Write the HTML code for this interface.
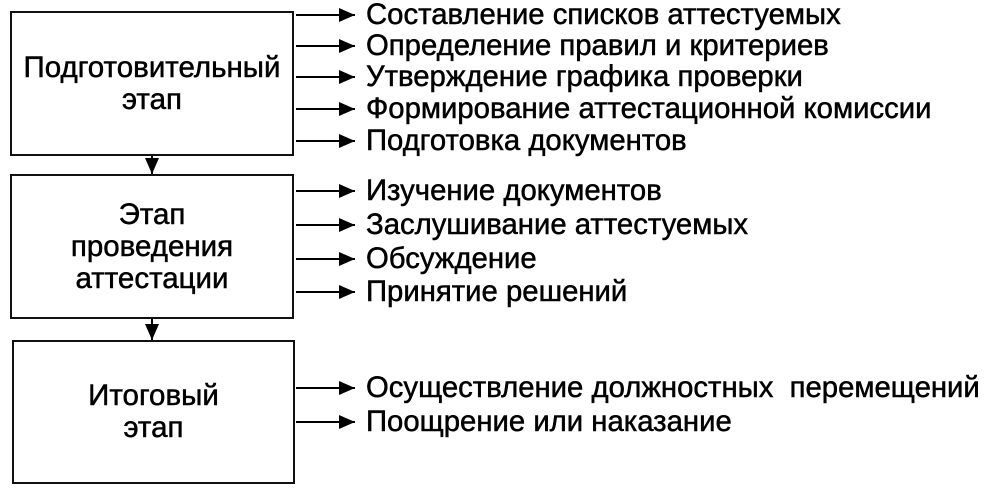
<!DOCTYPE html>
<html><head><meta charset="utf-8"><style>
body{margin:0;width:998px;height:491px;background:#fff;position:relative;overflow:hidden;font-family:"Liberation Sans",sans-serif;color:#000}
.box{position:absolute;border:2px solid #111;box-sizing:border-box;display:flex;align-items:center;justify-content:center;text-align:center;font-size:29.5px;line-height:32px;-webkit-text-stroke:0.5px #000}
.t{position:absolute;left:366px;font-size:29.3px;line-height:30px;white-space:nowrap;transform:translateY(-50%);-webkit-text-stroke:0.5px #000}
svg{position:absolute;left:0;top:0}
</style></head><body>
<div class="box" style="left:10px;top:11px;width:284px;height:145px">Подготовительный<br>этап</div>
<div class="box" style="left:10px;top:174px;width:284px;height:145px">Этап<br>проведения<br>аттестации</div>
<div class="box" style="left:12px;top:340px;width:283px;height:144px">Итоговый<br>этап</div>
<svg width="998" height="491">
<defs><marker id="a" markerWidth="16" markerHeight="14" refX="16" refY="7" orient="auto" markerUnits="userSpaceOnUse"><path d="M0,0 L16,7 L0,14 z" fill="#000"/></marker></defs>
<g stroke="#000" stroke-width="2" marker-end="url(#a)">
<line x1="296" y1="15" x2="355" y2="15"/>
<line x1="296" y1="46" x2="355" y2="46"/>
<line x1="296" y1="77" x2="355" y2="77"/>
<line x1="296" y1="109" x2="355" y2="109"/>
<line x1="296" y1="141" x2="355" y2="141"/>
<line x1="296" y1="191" x2="355" y2="191"/>
<line x1="296" y1="225" x2="355" y2="225"/>
<line x1="296" y1="259" x2="355" y2="259"/>
<line x1="296" y1="292" x2="355" y2="292"/>
<line x1="296" y1="388" x2="355" y2="388"/>
<line x1="296" y1="422" x2="355" y2="422"/>
<line x1="152" y1="156" x2="152" y2="174"/>
<line x1="152" y1="319" x2="152" y2="340"/>
</g>
</svg>
<div class="t" style="top:15px">Составление списков аттестуемых</div>
<div class="t" style="top:46px">Определение правил и критериев</div>
<div class="t" style="top:77px">Утверждение графика проверки</div>
<div class="t" style="top:109px">Формирование аттестационной комиссии</div>
<div class="t" style="top:141px">Подготовка документов</div>
<div class="t" style="top:191px">Изучение документов</div>
<div class="t" style="top:225px">Заслушивание аттестуемых</div>
<div class="t" style="top:259px">Обсуждение</div>
<div class="t" style="top:292px">Принятие решений</div>
<div class="t" style="top:388px">Осуществление должностных&nbsp; перемещений</div>
<div class="t" style="top:422px">Поощрение или наказание</div>
</body></html>
